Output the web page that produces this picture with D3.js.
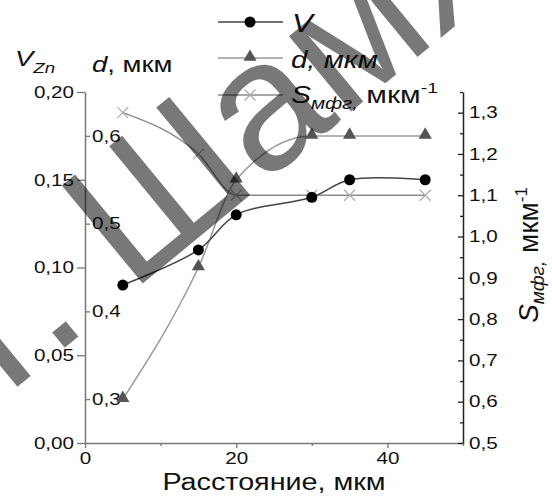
<!DOCTYPE html>
<html><head><meta charset="utf-8">
<script src="https://cdn.jsdelivr.net/npm/d3@7"></script>
<style>
html,body{margin:0;padding:0;background:#fff;}
svg{display:block;}
text{font-family:"Liberation Sans",Arial,sans-serif;}
</style></head>
<body>
<svg id="c" width="552" height="496"></svg>
<script>
// ---- data ----
const distance = [5, 15, 20, 30, 35, 45];
const vZn      = [0.09, 0.11, 0.13, 0.14, 0.15, 0.15];
const dMkm     = [0.30, 0.45, 0.55, 0.60, 0.60, 0.60];
const sMfg     = [1.30, 1.20, 1.10, 1.10, 1.10, 1.10];
const xTicks   = [0, 20, 40];
const xMinor   = [10, 30, 50];
const vTicks   = [0, 0.05, 0.10, 0.15, 0.20];
const dTicks   = [0.3, 0.4, 0.5, 0.6];
const sTicks   = [0.5, 0.6, 0.7, 0.8, 0.9, 1.0, 1.1, 1.2, 1.3];
const sMinor   = [0.55, 0.65, 0.75, 0.85, 0.95, 1.05, 1.15, 1.25, 1.35];
const watermark = "Т. Шамяк";

const svg = d3.select("#c");
const L = 85, R = 463, T = 92, B = 443;
const SX = 1.25; // horizontal text stretch seen in the reference

const x  = d3.scaleLinear().domain([0, 50]).range([L, R]);
const yV = d3.scaleLinear().domain([0, 0.20]).range([B, T]);
const yD = d3.scaleLinear().domain([0.25, 0.65]).range([B, T]);
const yS = d3.scaleLinear().domain([0.5, 1.35]).range([B, T]);

const comma = f => v => d3.format(f)(v).replace(".", ",");

// X axis
const gx = svg.append("g").attr("transform", `translate(0,${B})`)
  .call(d3.axisBottom(x).tickValues(xTicks).tickSize(5).tickSizeOuter(0).tickPadding(4).tickFormat(d3.format("d")));
const gxm = svg.append("g").attr("transform", `translate(0,${B})`)
  .call(d3.axisBottom(x).tickValues(xMinor).tickSize(3).tickSizeOuter(0).tickFormat(""))
  .call(g => g.select(".domain").remove());

// left V axis
const gv = svg.append("g").attr("transform", `translate(${L},0)`)
  .call(d3.axisLeft(yV).tickValues(vTicks).tickSize(8).tickSizeOuter(0).tickPadding(3).tickFormat(comma(".2f")));
// inner d axis
const gd = svg.append("g").attr("transform", `translate(${L},0)`)
  .call(d3.axisRight(yD).tickValues(dTicks).tickSize(5).tickSizeOuter(0).tickPadding(2).tickFormat(comma(".1f")))
  .call(g => g.select(".domain").remove());
// right S axis
const gs = svg.append("g").attr("transform", `translate(${R},0)`)
  .call(d3.axisRight(yS).tickValues(sTicks).tickSize(-5).tickSizeOuter(0).tickPadding(6).tickFormat(comma(".1f")));
const gsm = svg.append("g").attr("transform", `translate(${R},0)`)
  .call(d3.axisRight(yS).tickValues(sMinor).tickSize(-3).tickSizeOuter(0).tickFormat(""))
  .call(g => g.select(".domain").remove());

[gx, gv, gd, gs].forEach(g => {
  g.selectAll(".tick text").attr("font-size", 16.5).attr("fill", "#111").attr("font-family", "Liberation Sans, Arial, sans-serif");
});
svg.selectAll(".domain").attr("stroke-width", 1.5);
svg.selectAll(".tick line").attr("stroke-width", 1.3);
gx.selectAll(".domain, .tick line").attr("stroke", "#777");
gxm.selectAll(".tick line").attr("stroke", "#777");
gv.selectAll(".domain, .tick line").attr("stroke", "#777");
gd.selectAll(".tick line").attr("stroke", "#777");
gs.selectAll(".domain, .tick line").attr("stroke", "#222");
gsm.selectAll(".tick line").attr("stroke", "#222");

// stretch tick labels horizontally
[gx, gv, gd, gs].forEach(g => {
  g.selectAll(".tick text").each(function() {
    const t = d3.select(this);
    const tx = +(t.attr("x") || 0);
    t.attr("transform", `translate(${tx},0) scale(${SX},1)`).attr("x", 0);
  });
});

// ---- series ----
const pts = (ys, sc) => distance.map((d, i) => [x(d), sc(ys[i])]);
const lineM = d3.line().curve(d3.curveMonotoneX);
const lineC = d3.line().curve(d3.curveCatmullRom.alpha(0.5));

svg.append("path").attr("d", lineM(pts(sMfg, yS))).attr("fill", "none").attr("stroke", "#8a8a8a").attr("stroke-width", 1.5);
svg.append("path").attr("d", lineM(pts(dMkm, yD))).attr("fill", "none").attr("stroke", "#9a9a9a").attr("stroke-width", 1.5);
svg.append("path").attr("d", lineC(pts(vZn, yV))).attr("fill", "none").attr("stroke", "#444").attr("stroke-width", 1.5);

const tri = d3.symbol().type(d3.symbolTriangle).size(75);
const cross = d3.symbol().type(d3.symbolX).size(80);

svg.selectAll(".sx").data(pts(sMfg, yS)).join("path")
  .attr("transform", p => `translate(${p[0]},${p[1]})`).attr("d", cross())
  .attr("fill", "none").attr("stroke", "#aaa").attr("stroke-width", 1.2);
svg.selectAll(".dt").data(pts(dMkm, yD)).join("path")
  .attr("transform", p => `translate(${p[0]},${p[1] - 1})`).attr("d", tri()).attr("fill", "#555");
svg.selectAll(".vc").data(pts(vZn, yV)).join("circle")
  .attr("cx", p => p[0]).attr("cy", p => p[1]).attr("r", 5.5).attr("fill", "#000");

// ---- legend ----
const lg = svg.append("g");
const legY = [22, 58, 95];
lg.append("line").attr("x1", 218).attr("x2", 283).attr("y1", legY[0]).attr("y2", legY[0]).attr("stroke", "#444").attr("stroke-width", 1.5);
lg.append("circle").attr("cx", 250).attr("cy", legY[0]).attr("r", 5.5).attr("fill", "#000");
lg.append("line").attr("x1", 218).attr("x2", 283).attr("y1", legY[1]).attr("y2", legY[1]).attr("stroke", "#9a9a9a").attr("stroke-width", 1.5);
lg.append("path").attr("transform", `translate(250,${legY[1] - 1})`).attr("d", tri()).attr("fill", "#555");
lg.append("line").attr("x1", 218).attr("x2", 283).attr("y1", legY[2]).attr("y2", legY[2]).attr("stroke", "#8a8a8a").attr("stroke-width", 1.5);
lg.append("path").attr("transform", `translate(250,${legY[2]})`).attr("d", cross()).attr("fill", "none").attr("stroke", "#aaa").attr("stroke-width", 1.2);

function stext(xp, yp, size, sx) {
  return svg.append("text").attr("transform", `translate(${xp},${yp}) scale(${sx === undefined ? SX : sx},1)`)
    .attr("font-size", size).attr("fill", "#111");
}
let t;
t = stext(292, 32, 25); t.append("tspan").attr("font-style", "italic").text("V");
t = stext(291, 68, 23.5); t.append("tspan").attr("font-style", "italic").text("d, мкм");
t = stext(291, 103, 24);
t.append("tspan").attr("font-style", "italic").text("S");
t.append("tspan").attr("font-style", "italic").attr("font-size", 16.5).attr("dy", 6).text("мфг,");
t.append("tspan").attr("dy", -6).text(" мкм");
t.append("tspan").attr("font-size", 15.5).attr("dy", -10).text("-1");

// left titles
t = stext(15, 66, 22); t.append("tspan").attr("font-style", "italic").text("V");
t.append("tspan").attr("font-style", "italic").attr("font-size", 15).attr("dy", 7).text("Zn");
t = stext(92, 72, 22); t.append("tspan").attr("font-style", "italic").text("d");
t.append("tspan").text(", мкм");

// x title
stext(274, 490, 23).attr("text-anchor", "middle").text("Расстояние, мкм");

// right title (rotated)
t = svg.append("text").attr("transform", "translate(538,255) rotate(-90)")
  .attr("font-size", 28).attr("fill", "#111").attr("text-anchor", "middle");
t.append("tspan").attr("font-style", "italic").text("S");
t.append("tspan").attr("font-style", "italic").attr("font-size", 19).attr("dy", 6).text("мфг,");
t.append("tspan").attr("dy", -6).text(" мкм");
t.append("tspan").attr("font-size", 17).attr("dy", -11).text("-1");

// watermark (on top, translucent), rotated about the dot position
svg.append("text").attr("transform", "translate(56,333) rotate(-39.5) translate(-112,17)")
  .attr("font-family", "Liberation Serif, Times New Roman, serif").attr("font-size", 185)
  .attr("fill", "#000").attr("fill-opacity", 0.53).text(watermark);
</script>
</body></html>
